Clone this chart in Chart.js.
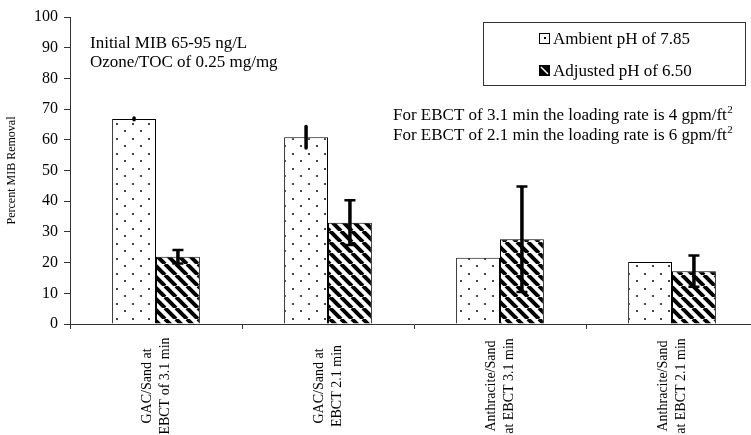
<!DOCTYPE html>
<html><head><meta charset="utf-8">
<script src="https://cdn.jsdelivr.net/npm/chart.js@4/dist/chart.umd.min.js"></script>
<style>html,body{margin:0;padding:0;background:#fff;overflow:hidden;} #wrap{width:770px;height:435px;}</style>
</head><body><div id="wrap"><canvas id="c" width="770" height="435"></canvas></div>
<script>
const categories = [["GAC/Sand at","EBCT of 3.1 min"],["GAC/Sand at","EBCT 2.1 min"],["Anthracite/Sand","at EBCT 3.1 min"],["Anthracite/Sand","at EBCT 2.1 min"]];
const seriesNames = ["Ambient pH of 7.85","Adjusted pH of 6.50"];
const ambient = [66.8, 60.8, 21.6, 20.2];
const adjusted = [21.9, 33.0, 27.6, 17.2];
const ambientErr = [0.3, 3.5, 0, 0];
const adjustedErr = [2.2, 7.3, 17.2, 5.1];
const yTicks = [0,10,20,30,40,50,60,70,80,90,100];
const notesLeft = ["Initial MIB 65-95 ng/L","Ozone/TOC of 0.25 mg/mg"];
const notesRight = ["For EBCT of 3.1 min the loading rate is 4 gpm/ft","For EBCT of 2.1 min the loading rate is 6 gpm/ft"];
const yTitle = "Percent MIB Removal";

const SERIF = "'Liberation Serif', 'Times New Roman', serif";
const canvas = document.getElementById('c');
const ctx = canvas.getContext('2d');

function dotPattern(){
  const c=document.createElement('canvas'); c.width=16; c.height=15;
  const x=c.getContext('2d');
  x.fillStyle='#fff'; x.fillRect(0,0,16,15);
  x.fillStyle='#444';
  x.fillRect(4,3,2,2);
  x.fillRect(12,10,2,2);
  return ctx.createPattern(c,'repeat');
}
function hatchPattern(){
  const n=11;
  const c=document.createElement('canvas'); c.width=n; c.height=n;
  const x=c.getContext('2d');
  x.fillStyle='#fff'; x.fillRect(0,0,n,n);
  x.strokeStyle='#000'; x.lineWidth=4;
  x.beginPath();
  for (const k of [-n,0,n]) { x.moveTo(k,0); x.lineTo(k+n,n); }
  x.stroke();
  return ctx.createPattern(c,'repeat');
}
const dotPat = dotPattern();
const hatchPat = hatchPattern();

const errs = [ambientErr, adjustedErr];
const capW = [0, 11];
const errPlugin = {
  id:'errbars',
  afterDatasetsDraw(chart){
    const c=chart.ctx, y=chart.scales.y;
    c.save();
    c.strokeStyle='#000';
    chart.data.datasets.forEach((ds,i)=>{
      const meta=chart.getDatasetMeta(i);
      meta.data.forEach((bar,j)=>{
        const e=errs[i][j]; if(!e) return;
        const v=ds.data[j];
        const yt=y.getPixelForValue(v+e), yb=y.getPixelForValue(v-e);
        c.lineWidth=3.5; c.lineCap= capW[i] ? 'butt':'round';
        c.beginPath(); c.moveTo(bar.x,yt); c.lineTo(bar.x,yb); c.stroke();
        if(capW[i]){
          c.lineWidth=2.5;
          c.beginPath();
          c.moveTo(bar.x-capW[i]/2,yt); c.lineTo(bar.x+capW[i]/2,yt);
          c.moveTo(bar.x-capW[i]/2,yb); c.lineTo(bar.x+capW[i]/2,yb);
          c.stroke();
        }
      });
    });
    c.restore();
  }
};

// category labels: rotated, centred (as in the reference)
const xLabelPlugin = {
  id:'xlabels',
  afterDraw(chart){
    const c=chart.ctx, xs=chart.scales.x;
    const cy = xs.top + 62;
    c.save();
    c.fillStyle='#000';
    c.font='14px '+SERIF;
    c.textAlign='center';
    c.textBaseline='middle';
    chart.data.labels.forEach((lab,i)=>{
      const cx = xs.getPixelForValue(i);
      const lines = Array.isArray(lab)?lab:[lab];
      const lh = 18;
      lines.forEach((ln,k)=>{
        const off = (k-(lines.length-1)/2)*lh;
        c.save();
        c.translate(cx+off, cy);
        c.rotate(-Math.PI/2);
        c.fillText(ln,0,0);
        c.restore();
      });
    });
    c.restore();
  }
};

function supText(c, s, x, y, size){
  c.font = size+'px '+SERIF;
  c.fillText(s, x, y);
  const w = c.measureText(s).width;
  c.font = Math.round(size*0.62)+'px '+SERIF;
  c.fillText('2', x+w+0.5, y-size*0.42);
}

const notesPlugin = {
  id:'notes',
  afterDraw(chart){
    const c=chart.ctx;
    c.save();
    c.fillStyle='#000';
    c.textBaseline='alphabetic';
    c.textAlign='left';
    c.font='17px '+SERIF;
    c.fillText(notesLeft[0], 90, 48);
    c.fillText(notesLeft[1], 90, 67);
    supText(c, notesRight[0], 393, 120, 17);
    supText(c, notesRight[1], 393, 140, 17);
    // legend box
    c.strokeStyle='#333'; c.lineWidth=1;
    c.strokeRect(483.5,22.5,262,63);
    // swatch 1
    c.fillStyle='#fff'; c.fillRect(539.5,33.5,10,10);
    c.strokeStyle='#000'; c.strokeRect(539.5,33.5,10,10);
    c.fillStyle='#000'; c.fillRect(544,37,2,2);
    // swatch 2
    c.fillStyle='#000'; c.fillRect(539.5,65.5,10,10);
    c.strokeRect(539.5,65.5,10,10);
    c.strokeStyle='#fff'; c.lineWidth=1.5;
    c.beginPath(); c.moveTo(541,67); c.lineTo(548,74); c.stroke();
    c.fillStyle='#000';
    c.font='17px '+SERIF;
    c.fillText(seriesNames[0], 553, 44);
    c.fillText(seriesNames[1], 553, 76);
    c.restore();
  }
};

new Chart(ctx, {
  type:'bar',
  data:{
    labels: categories,
    datasets:[
      {label:seriesNames[0], data:ambient, backgroundColor:dotPat, borderColor:'#000', borderWidth:1},
      {label:seriesNames[1], data:adjusted, backgroundColor:hatchPat, borderColor:'#000', borderWidth:1}
    ]
  },
  options:{
    responsive:false,
    animation:false,
    layout:{padding:{top:17,right:12,left:0,bottom:0}},
    plugins:{legend:{display:false}, tooltip:{enabled:false}},
    datasets:{bar:{categoryPercentage:0.51, barPercentage:1.0}},
    scales:{
      x:{
        grid:{display:true, drawOnChartArea:false, tickLength:5, color:'#333', offset:true},
        border:{color:'#333', width:1},
        ticks:{display:false},
        afterFit(s){ s.height = 111; }
      },
      y:{
        min:0, max:100,
        afterBuildTicks(s){ s.ticks = yTicks.map(v=>({value:v})); },
        grid:{drawOnChartArea:false, tickLength:6, color:'#333'},
        border:{color:'#333', width:1},
        ticks:{color:'#000', padding:6, font:{family:SERIF, size:16}},
        title:{display:true, text:yTitle, color:'#000', font:{family:SERIF, size:12}, padding:{top:5,bottom:0}},
        afterFit(s){ s.width = 70; }
      }
    }
  },
  plugins:[errPlugin, xLabelPlugin, notesPlugin]
});
</script>
</body></html>
